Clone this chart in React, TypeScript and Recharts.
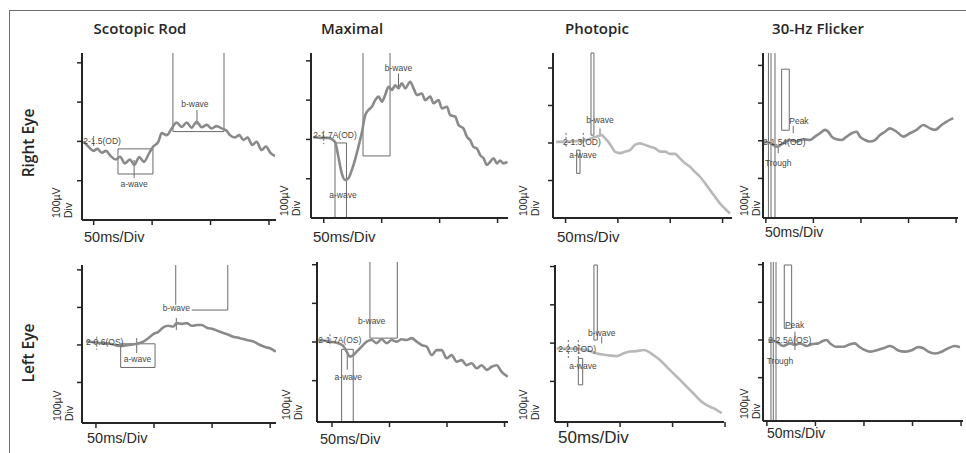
import {
  ComposedChart,
  Line,
  XAxis,
  YAxis,
  ReferenceLine,
  ReferenceArea,
  ReferenceDot,
} from 'recharts';

type Pt = [number, number]; // [ms, µV]
type Box = [number, number, number, number]; // x1, x2, y1, y2
type Seg = [number, number, number, number]; // x1, y1, x2, y2
type Note = [string, number, number, 'start' | 'middle'];

// ---------- Right eye ----------
const rodOd: Pt[] = [
  [-9, 0], [-4.6, -13], [-0.3, -24], [3.1, -19], [6.8, -29], [10.5, -24], [14.5, -37],
  [18.8, -46], [22.5, -39], [26.8, -56], [31, -46], [34.7, -60], [39, -40], [43, -52],
  [47.6, -29], [51, -13], [55.3, -1], [58.2, 21], [62.4, 16], [66.7, 33], [71, 48],
  [75.3, 37], [79.6, 48], [83.8, 35], [88.1, 50], [92.4, 36], [96.7, 42], [100.9, 33],
  [105.2, 39], [109.5, 33], [113.8, 27], [116.6, 16], [120.9, 10], [124.6, 16], [128, 4],
  [131.7, 10], [135.7, -9], [139.4, -1], [143.7, -22], [147.4, -13], [151.4, -30], [155.1, -37],
];
const rodOdBoxes: Box[] = [[20.8, 50.7, -19, -83]];
const rodOdSegs: Seg[] = [
  [67.8, 225, 67.8, 25], [67.8, 25, 111.5, 25], [111.5, 25, 111.5, 225],
  [88.4, 80, 88.4, 42], [34.6, -47, 34.6, -93],
];
const rodOdDash: Seg[] = [[0, 14, 0, -14]];
const rodOdNotes: Note[] = [
  ['2-1.5(OD)', -9, 0, 'start'], ['b-wave', 86.6, 95, 'middle'], ['a-wave', 34.6, -108, 'middle'],
];

const maxOd: Pt[] = [
  [-9.2, 6], [-3.2, 4], [3.7, 4], [9.7, -6], [12.6, -44], [15.5, -86], [18.4, -103],
  [21.2, -99], [24.2, -78], [27, -52], [29.9, -19], [32.8, 16], [35.8, 62], [38.6, 75],
  [41.5, 83], [44.4, 100], [47.3, 109], [50.2, 96], [53, 113], [55.9, 134], [58.8, 126],
  [61.7, 138], [64.5, 130], [67.4, 143], [70.3, 130], [74.6, 147], [77.5, 130], [80.4, 113],
  [84.7, 117], [87.5, 100], [91.9, 109], [94.7, 92], [99, 100], [102, 79], [106.3, 83],
  [109.1, 62], [113.4, 58], [116.3, 37], [120.6, 28], [123.5, 7], [126.4, -2], [129.2, -19],
  [132.2, -23], [135, -40], [137.9, -48], [140.8, -65], [143.6, -57], [146.5, -48],
  [149.4, -61], [152.2, -54], [155.1, -61], [158.5, -57],
];
const maxOdBoxes: Box[] = [];
const maxOdSegs: Seg[] = [
  [9.7, -200, 9.7, -9], [9.7, -9, 19.6, -9], [19.6, -9, 19.6, -200],
  [33.9, 220, 33.9, -42], [33.9, -42, 57.2, -42], [57.2, -42, 57.2, 220],
  [64.5, 168, 64.5, 131],
];
const maxOdDash: Seg[] = [[0, 22, 0, -12]];
const maxOdNotes: Note[] = [
  ['2-1.7A(OD)', -9, 11, 'start'], ['b-wave', 64.5, 182, 'middle'], ['a-wave', 16.6, -142, 'middle'],
];

const photOd: Pt[] = [
  [-9, 3], [1, 3], [10, 5], [20.2, 8], [24.9, 13], [29.7, 17], [34.5, 21], [37.6, 13],
  [40.8, 3], [44, -10], [47.2, -23], [52, -27], [56.8, -23], [61.5, -19], [66.3, -5],
  [71.1, -1], [75.9, -5], [80.6, -10], [85.4, -14], [90.2, -23], [95, -23], [99.7, -29],
  [104.5, -29], [109.3, -41], [114.1, -54], [118.8, -63], [123.6, -77], [128.4, -90],
  [133.2, -107], [137.9, -125], [142.7, -143], [147.5, -161], [152.3, -175], [157, -188],
];
const photOdBoxes: Box[] = [[24.3, 27.1, 21, 240], [10.6, 13.8, -19, -81]];
const photOdSegs: Seg[] = [[32.9, 39, 32.9, 21]];
const photOdDash: Seg[] = [[0.4, 27, 0.4, -10], [16.9, 27, 16.9, -10]];
const photOdNotes: Note[] = [
  ['2-1.3(OD)', -2.5, 3, 'start'], ['b-wave', 32.9, 61, 'middle'], ['a-wave', 16.6, -32, 'middle'],
];

const flickOd: Pt[] = [
  [-2.7, -2], [4.3, -6], [11.4, -16], [18.3, -7], [25.3, 2], [32.4, -2], [39.3, 4],
  [46.4, 2], [51.6, 11], [56.9, 20], [62.1, 29], [65.6, 24], [69.2, 11], [74.4, 4],
  [79.7, 2], [84.9, 11], [90.2, 20], [95.5, 24], [98.9, 11], [104.2, 2], [109.4, -2],
  [114.7, 2], [119.9, 15], [125.2, 24], [130.4, 33], [137.5, 24], [144.4, 11], [151.5, 20],
  [158.5, 29], [165.5, 42], [172.5, 33], [177.8, 29], [184.8, 42], [190.1, 51], [197, 60],
];
const flickOdBoxes: Box[] = [[16.6, 24.6, 28, 190]];
const flickOdSegs: Seg[] = [
  [2.7, -205, 2.7, 233], [5.4, -205, 5.4, 233], [9.6, -205, 9.6, 233],
  [28.8, 39, 28.8, 20], [13, -11, 13, -33],
];
const flickOdDash: Seg[] = [];
const flickOdNotes: Note[] = [
  ['Peak', 24.6, 53, 'start'], ['2-1.54(OD)', -3, -2, 'start'], ['Trough', -1, -58, 'start'],
];

// ---------- Left eye ----------
const rodOs: Pt[] = [
  [-8.5, 9], [-3.4, 8], [3.5, 5], [12.1, 3], [20.7, -3], [27.9, 0], [35.1, 3], [40.8, 9],
  [45.1, 18], [49.4, 29], [53.7, 35], [58, 47], [62.3, 51], [66.6, 49], [69.6, 58],
  [73.9, 56], [78.2, 58], [82.5, 51], [86.8, 53], [91.1, 53], [95.4, 46], [101.1, 42],
  [106.8, 35], [112.6, 29], [118.3, 22], [124, 18], [129.8, 13], [135.5, 9], [141.3, 0],
  [146.4, -6], [149.9, -9], [154.8, -18],
];
const rodOsBoxes: Box[] = [[21.3, 50.9, 3, -60]];
const rodOsSegs: Seg[] = [
  [68.7, 213, 68.7, 107], [82.5, 93, 113.5, 93], [113.5, 213, 113.5, 93],
  [69.2, 72, 69.2, 40], [35.1, 18, 35.1, -22],
];
const rodOsDash: Seg[] = [[0.7, 22, 0.7, -13]];
const rodOsNotes: Note[] = [
  ['2-0.6(OS)', -8.5, 9, 'start'], ['b-wave', 69.2, 98, 'middle'], ['a-wave', 35.8, -37, 'middle'],
];

const maxOs: Pt[] = [
  [-11.9, 5], [-1.7, 1], [5.5, -3], [9.8, -10], [12.8, -25], [15.6, -38], [18.5, -34],
  [21.5, -25], [25.8, -12], [30.2, 1], [34.5, 5], [38.8, -3], [43.2, 7], [47.5, -3],
  [51.9, 5], [56.2, 1], [60.6, 7], [64.9, 5], [69.3, 10], [73.6, 1], [78, -8], [82.3, -12],
  [86.7, -34], [91, -21], [95.3, -21], [99.7, -42], [104, -34], [108.4, -51], [112.7, -47],
  [117.1, -60], [121.4, -55], [125.8, -68], [130.1, -60], [134.5, -72], [138.8, -64],
  [143.1, -60], [147.5, -77], [152.8, -90],
];
const maxOsBoxes: Box[] = [];
const maxOsSegs: Seg[] = [
  [33, 207, 33, 10], [33, 10, 56.8, 10], [56.8, 10, 56.8, 207],
  [8.4, -207, 8.4, -19], [8.4, -19, 18.5, -19], [18.5, -19, 18.5, -207],
  [13.3, -29, 13.3, -72],
];
const maxOsDash: Seg[] = [[-1.7, 20, -1.7, -12]];
const maxOsNotes: Note[] = [
  ['2-1.7A(OS)', -11.9, 5, 'start'], ['b-wave', 34.5, 54, 'middle'], ['a-wave', 14.2, -91, 'middle'],
];

const photOs: Pt[] = [
  [-10.4, -14], [-0.9, -14], [8.7, -15], [18.2, -18], [27.7, -27], [37.2, -31], [46.8, -34],
  [53.1, -27], [59.4, -22], [65.8, -21], [72.1, -18], [76.9, -22], [81.6, -31], [88, -44],
  [94.4, -62], [100.7, -79], [107.1, -96], [113.5, -114], [119.7, -131], [126.1, -149],
  [132.5, -162], [138.8, -170], [146.8, -183],
];
const photOsBoxes: Box[] = [[25.1, 28.3, 8, 204], [10.2, 14.4, -40, -109]];
const photOsSegs: Seg[] = [[32.5, 17, 32.5, -1]];
const photOsDash: Seg[] = [[0.7, 8, 0.7, -39], [10.2, 8, 10.2, -39]];
const photOsNotes: Note[] = [
  ['2-2.0(OD)', -8.9, -16, 'start'], ['b-wave', 32.5, 27, 'middle'], ['a-wave', 14.7, -60, 'middle'],
];

const flickOs: Pt[] = [
  [1.4, 0], [10.1, -5], [16.9, -16], [23.8, -9], [28.9, -13], [34.1, -9], [41, -16],
  [46.1, -11], [52.9, -9], [58.1, -2], [61.6, 0], [65, -9], [71.9, -18], [78.7, -18],
  [85.6, -11], [90.7, -9], [94.1, -16], [99.3, -25], [106.2, -31], [113.1, -27], [119.9, -22],
  [126.8, -16], [130.2, -19], [135.3, -28], [142.2, -31], [149.1, -27], [155.9, -19],
  [161.1, -22], [166.2, -31], [173.1, -36], [180, -31], [186.8, -22], [193.7, -16], [198.8, -19],
];
const flickOsBoxes: Box[] = [[17.9, 25.5, 31, 199]];
const flickOsSegs: Seg[] = [
  [4.2, -215, 4.2, 207], [6.6, -215, 6.6, 207], [9.4, -215, 9.4, 207],
  [28.9, 22, 28.9, -27],
];
const flickOsDash: Seg[] = [];
const flickOsNotes: Note[] = [
  ['Peak', 18.6, 40, 'start'], ['2-2.5A(OS)', 1.4, 0, 'start'], ['Trough', -0.2, -55, 'start'],
];

const TITLES: [string, number][] = [
  ['Scotopic Rod', 140], ['Maximal', 352], ['Photopic', 597], ['30-Hz Flicker', 818],
];
const ROWS: [string, number][] = [['Right Eye', 143], ['Left Eye', 353]];

const DARK = '#8a8a8a';
const LIGHT = '#b8b8b8';
const ANN = '#6a6a6a';

interface PanelSpec {
  x0: number; x1: number; yTop: number; yBot: number;
  xDom: [number, number]; yDom: [number, number];
  xTicks: number[];
  wave: Pt[]; boxes: Box[]; segs: Seg[]; dash: Seg[]; notes: Note[];
  color: string;
  unitDx: number; // 100µV label offset from axis
  msX: number; msY: number; msSize: number;
}

const T4 = [0, 50, 100, 150];
const T5 = [0, 50, 100, 150, 200];

const panels: PanelSpec[] = [
  { x0: 82, x1: 276, yTop: 53, yBot: 220, xDom: [-10, 156], yDom: [-200, 225], xTicks: T4,
    wave: rodOd, boxes: rodOdBoxes, segs: rodOdSegs, dash: rodOdDash, notes: rodOdNotes,
    color: DARK, unitDx: 20, msX: 84, msY: 237, msSize: 14.5 },
  { x0: 311, x1: 508, yTop: 53, yBot: 218, xDom: [-11, 159], yDom: [-200, 220], xTicks: T4,
    wave: maxOd, boxes: maxOdBoxes, segs: maxOdSegs, dash: maxOdDash, notes: maxOdNotes,
    color: DARK, unitDx: 21, msX: 313, msY: 236, msSize: 15 },
  { x0: 553, x1: 732, yTop: 53, yBot: 218, xDom: [-12, 159], yDom: [-200, 240], xTicks: T4,
    wave: photOd, boxes: photOdBoxes, segs: photOdSegs, dash: photOdDash, notes: photOdNotes,
    color: LIGHT, unitDx: 24, msX: 557, msY: 236, msSize: 15 },
  { x0: 763, x1: 958, yTop: 53, yBot: 218, xDom: [-3, 202], yDom: [-205, 233], xTicks: T5,
    wave: flickOd, boxes: flickOdBoxes, segs: flickOdSegs, dash: flickOdDash, notes: flickOdNotes,
    color: DARK, unitDx: 13, msX: 765, msY: 232, msSize: 14 },
  { x0: 82, x1: 276, yTop: 265, yBot: 423, xDom: [-12, 155], yDom: [-208, 213], xTicks: T4,
    wave: rodOs, boxes: rodOsBoxes, segs: rodOsSegs, dash: rodOsDash, notes: rodOsNotes,
    color: DARK, unitDx: 19, msX: 87, msY: 438, msSize: 14.5 },
  { x0: 317, x1: 508, yTop: 262, yBot: 422, xDom: [-13, 153], yDom: [-207, 207], xTicks: T4,
    wave: maxOs, boxes: maxOsBoxes, segs: maxOsSegs, dash: maxOsDash, notes: maxOsNotes,
    color: DARK, unitDx: 25, msX: 320, msY: 439, msSize: 14.5 },
  { x0: 555, x1: 724, yTop: 265, yBot: 422, xDom: [-12, 149], yDom: [-206, 204], xTicks: T4,
    wave: photOs, boxes: photOsBoxes, segs: photOsSegs, dash: photOsDash, notes: photOsNotes,
    color: LIGHT, unitDx: 26, msX: 558, msY: 438, msSize: 17 },
  { x0: 763, x1: 963, yTop: 262, yBot: 421, xDom: [-4, 202], yDom: [-215, 207], xTicks: T5,
    wave: flickOs, boxes: flickOsBoxes, segs: flickOsSegs, dash: flickOsDash, notes: flickOsNotes,
    color: DARK, unitDx: 13, msX: 767, msY: 433, msSize: 14 },
];

const PAD_L = 22;
const PAD_T = 3;
const PAD_R = 4;
const PAD_B = 12;

function Panel({ p }: { p: PanelSpec }) {
  const data = p.wave.map(([t, v]) => ({ t, v }));
  return (
    <div style={{ position: 'absolute', left: p.x0 - PAD_L, top: p.yTop - PAD_T }}>
      <ComposedChart
        width={p.x1 - p.x0 + PAD_L + PAD_R}
        height={p.yBot - p.yTop + PAD_T + PAD_B}
        data={data}
        margin={{ top: PAD_T, right: PAD_R, left: 0, bottom: 0 }}
      >
        <XAxis
          type="number"
          dataKey="t"
          domain={p.xDom}
          ticks={p.xTicks}
          allowDataOverflow
          height={PAD_B}
          tickFormatter={() => ''}
          tickSize={5}
          axisLine={{ stroke: '#262626', strokeWidth: 2 }}
          tickLine={{ stroke: '#262626', strokeWidth: 1.5 }}
        />
        <YAxis
          type="number"
          domain={p.yDom}
          ticks={[-100, 0, 100, 200]}
          allowDataOverflow
          width={PAD_L}
          tickFormatter={() => ''}
          tickSize={5}
          axisLine={{ stroke: '#262626', strokeWidth: 2 }}
          tickLine={{ stroke: '#262626', strokeWidth: 1.5 }}
        />
        {p.boxes.map(([x1, x2, y1, y2], i) => (
          <ReferenceArea
            key={'b' + i}
            x1={x1} x2={x2} y1={y1} y2={y2}
            fill="none" fillOpacity={0}
            stroke={ANN} strokeWidth={1}
            ifOverflow="visible"
          />
        ))}
        {p.segs.map(([x1, y1, x2, y2], i) => (
          <ReferenceLine
            key={'s' + i}
            segment={[{ x: x1, y: y1 }, { x: x2, y: y2 }]}
            stroke={ANN} strokeWidth={1}
            ifOverflow="visible"
          />
        ))}
        {p.dash.map(([x1, y1, x2, y2], i) => (
          <ReferenceLine
            key={'d' + i}
            segment={[{ x: x1, y: y1 }, { x: x2, y: y2 }]}
            stroke={ANN} strokeWidth={1} strokeDasharray="2 2"
            ifOverflow="visible"
          />
        ))}
        <Line
          type="monotone"
          dataKey="v"
          stroke={p.color}
          strokeWidth={2.6}
          dot={false}
          activeDot={false}
          isAnimationActive={false}
        />
        {p.notes.map(([text, x, y, anchor], i) => (
          <ReferenceDot
            key={'n' + i}
            x={x} y={y} r={0}
            fill="none" stroke="none"
            ifOverflow="visible"
            label={{
              value: text,
              position: anchor === 'start' ? 'right' : 'center',
              offset: 0,
              fontSize: 8.5,
              fill: '#474747',
            }}
          />
        ))}
      </ComposedChart>
    </div>
  );
}

const abs = (extra: React.CSSProperties): React.CSSProperties => ({
  position: 'absolute',
  whiteSpace: 'nowrap',
  ...extra,
});

export default function App() {
  return (
    <div
      style={{
        position: 'absolute',
        left: 0,
        top: 0,
        width: 966,
        height: 453,
        background: '#fff',
        overflow: 'hidden',
        fontFamily: '"Liberation Sans", Arial, sans-serif',
        color: '#222',
      }}
    >
      {/* frame */}
      <div style={abs({ left: 9, top: 10, width: 957, height: 0, borderTop: '1.5px solid #6e6e6e' })} />
      <div style={abs({ left: 9, top: 10, width: 0, height: 443, borderLeft: '1.5px solid #6e6e6e' })} />

      {TITLES.map(([t, cx]) => (
        <div
          key={t}
          style={abs({
            left: cx, top: 28, transform: 'translate(-50%, -50%)',
            fontFamily: '"Open Sans", sans-serif', fontWeight: 600, fontSize: 15, color: '#262626',
          })}
        >
          {t}
        </div>
      ))}

      {ROWS.map(([t, cy]) => (
        <div
          key={t}
          style={abs({
            left: 28, top: cy, transform: 'translate(-50%, -50%) rotate(-90deg)',
            fontFamily: '"Open Sans", sans-serif', fontWeight: 600, fontSize: 15.5, color: '#262626',
          })}
        >
          {t}
        </div>
      ))}

      {panels.map((p, i) => (
        <Panel key={i} p={p} />
      ))}

      {panels.map((p, i) => (
        <div
          key={'ms' + i}
          style={abs({ left: p.msX, top: p.msY, transform: 'translateY(-50%)', fontSize: p.msSize, color: '#2a2a2a' })}
        >
          50ms/Div
        </div>
      ))}

      {panels.map((p, i) => (
        <div
          key={'uv' + i}
          style={abs({
            left: p.x0 - p.unitDx, top: p.yBot - 19, width: 34, height: 24,
            transform: 'translate(-50%, -50%) rotate(-90deg)',
            fontSize: 10.5, lineHeight: '12px', textAlign: 'left', color: '#2a2a2a',
          })}
        >
          <div>100µV</div>
          <div>Div</div>
        </div>
      ))}
    </div>
  );
}
